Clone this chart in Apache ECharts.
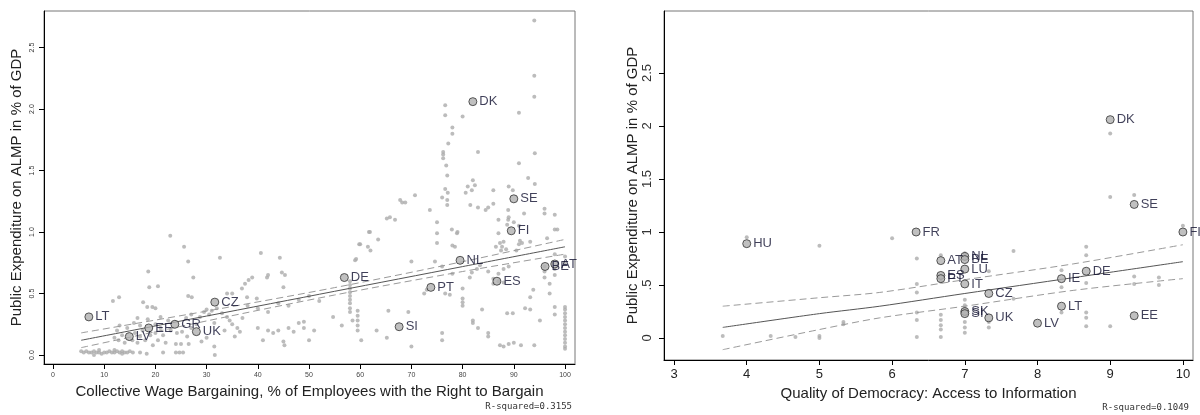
<!DOCTYPE html>
<html>
<head>
<meta charset="utf-8">
<title>ALMP spending scatter</title>
<script src="https://cdn.jsdelivr.net/npm/echarts@6/dist/echarts.min.js"></script>
<style>
  html, body { margin: 0; padding: 0; background: #fff; }
  #chart { width: 1200px; height: 415px; }
</style>
</head>
<body>
<div id="chart"></div>
<script>
// ---- left panel: collective bargaining coverage vs ALMP spending ----
var bargainCloud = [
  [5.5,0.03],[6,0.02],[6.5,0.03],[7,0.02],[7.5,0.02],[8,0.03],[8.5,0.02],[9,0.02],[9.5,0.01],[10,0.02],
  [10.5,0.02],[11,0.03],[11.5,0.02],[12,0.02],[12.5,0.03],[13,0.02],[13.5,0.03],[14,0.02],[14.5,0.02],[15,0.03],
  [15.6,0.02],[17,0.02],[18.3,0.01],[21.5,0.02],[24,0.02],[24.7,0.02],[25.4,0.02],[31.6,0.0],[9,0.04],[12,0.04],
  [13.5,0.01],[8,0.0],
  [12,0.14],[12.8,0.12],[13.5,0.16],[14,0.1],[15.5,0.12],[16,0.18],[16.5,0.1],[17,0.15],[17.5,0.2],[18,0.12],
  [19,0.16],[19.5,0.08],[20,0.18],[20.5,0.12],[21,0.22],[21.5,0.16],[22,0.1],[12.5,0.2],[13,0.24],[14.5,0.22],
  [15.8,0.26],[16.5,0.3],[18.5,0.29],[22.5,0.28],[23,0.2],[21,0.31],[20,0.25],[17,0.24],
  [24.2,0.18],[25.2,0.19],[26.2,0.15],[24,0.09],[25,0.09],[26.5,0.09],[29,0.11],[30,0.14],[31.5,0.07],[26,0.3],
  [27,0.33],[28.7,0.31],[29.5,0.35],[30,0.37],[30.5,0.33],[31,0.36],[32,0.38],[33,0.34],[34,0.31],[34.5,0.28],
  [35,0.25],[36,0.22],[36.5,0.19],[37,0.3],[35.5,0.15],[33.5,0.2],[31.5,0.26],[28,0.25],[27,0.22],
  [22.9,0.97],[25.6,0.88],[26.4,0.76],[27.4,0.63],[32.6,0.79],[40.6,0.83],[44.3,0.79],[18.6,0.68],[18.8,0.55],[20.5,0.56],
  [11.7,0.44],[12.9,0.47],[26.4,0.48],[27.1,0.47],[36.9,0.54],[37.5,0.58],[38.2,0.61],[38.9,0.63],[41.8,0.63],[42,0.65],
  [44.7,0.67],[45.3,0.65],[45,0.55],[34,0.5],[35,0.5],[37.9,0.47],[39.8,0.46],[17.6,0.43],[18.4,0.39],[19.4,0.39],[20,0.38],
  [40,0.22],[41,0.12],[42,0.2],[43,0.18],[44,0.2],[45,0.11],[45.2,0.08],[46,0.22],[47,0.19],[48,0.26],
  [49,0.22],[50,0.12],[49,0.27],[51,0.2],[38,0.4],[40,0.38],[42,0.35],[44,0.42],[46,0.4],[48,0.45],[50,0.48],[52,0.44],
  [54.7,0.31],[56.4,0.24],[58,0.42],[58,0.45],[58,0.48],[58,0.51],[58,0.54],[58,0.57],[58,0.6],[58,0.38],
  [58,0.35],[59.5,0.2],[59.5,0.24],[59.5,0.28],[59.5,0.32],[59.5,0.36],[58.5,0.28],[63.2,0.2],[60.2,0.12],[65.5,0.36],
  [65.2,0.14],[69.4,0.35],[70,0.07],[70,0.76],[59.8,0.9],[61.9,1.0],[63.5,0.94],[59,0.77],[61.7,1.0],[60,0.9],
  [61.5,0.88],[62,0.85],[59.2,0.78],[65.8,1.12],[66.8,1.1],[65.2,1.11],[67.8,1.26],[68.2,1.24],[68.8,1.24],[70.7,1.3],
  [75,1.08],[75,0.99],[75,0.91],[73.6,1.18],[77.9,1.02],[78.9,0.99],[74.6,0.76],[76.6,0.5],[77.5,0.49],[76,0.18],
  [76,0.12],[73,0.53],[72.5,0.5],[80,0.54],[80,0.46],[80,0.43],[80,0.4],[78.5,0.88],[78,0.89],[79,1.0],
  [76,1.28],[77,1.26],[77,1.22],[76,0.72],[78,0.66],
  [76.6,2.03],[76.6,1.95],[80,1.94],[78,1.85],[78,1.8],[77.2,1.72],[76.2,1.65],[76.2,1.63],[76.2,1.6],[76.8,1.54],
  [77,1.46],[76.6,1.35],[77.1,1.32],
  [82,0.28],[82,0.26],[83,0.22],[85,0.18],[85,0.15],[83.8,0.37],[81.4,0.63],[81.8,0.67],[82.8,0.7],[83.4,0.73],
  [85,0.68],[86,0.62],[87,0.66],[88,0.7],[89,0.72],[86,0.58],[87,0.6],[88,0.59],[87.3,0.08],[88,0.07],
  [89,0.09],[90,0.1],[91.4,0.08],[94,0.08],[87,0.99],[87.3,0.91],[87.7,0.88],[88.9,1.18],[88.9,1.1],[88.7,1.06],
  [91.2,0.93],[91.6,0.91],[93.2,0.92],[92.2,0.38],[93.2,0.37],[95.1,0.28],[93.8,0.53],[93.2,0.47],[88.7,0.34],[89.8,0.34],
  [94,2.72],[94,2.27],[94,2.1],[91,1.97],[83,1.65],[94.1,1.64],[91,1.56],[92.8,1.44],[94.1,1.39],[82,1.42],
  [82.4,1.38],[81.8,1.34],[81,1.37],[80.6,1.32],[86,1.34],[89,1.37],[89.8,1.34],[81.5,1.22],[83,1.2],[84.5,1.18],
  [85,1.2],[86,1.23],[87,1.1],[89,1.12],[90,1.08],[91,1.05],[92,1.15],[86.5,0.88],[87.5,0.85],[88,0.92],
  [88.5,0.86],[91,0.9],[90.5,0.85],
  [96,1.19],[96,1.15],[98,1.14],[98,1.02],[98.5,1.02],[96,0.72],[96,0.68],[96,0.63],[98,0.82],[98,0.7],
  [98,0.65],[98,0.39],[98,0.33],[96.5,0.95],[100,0.8],[100,0.75],[100,0.07],[100,0.1],[100,0.13],[100,0.16],
  [100,0.19],[100,0.22],[100,0.25],[100,0.28],[100,0.31],[100,0.34],[100,0.37],[100,0.39],[100,0.05],[97,0.58],[97,0.5]
];
var bargainCountries = ['DK','SE','FI','NL','BE','AT','DE','PT','ES','SI','CZ','LT','GR','EE','LV','UK'];
var bargainX = [82.0, 90.0, 89.5, 79.5, 96.1, 98.0, 56.9, 73.8, 86.7, 67.6, 31.6, 7.0, 23.8, 18.7, 14.9, 28.0];
var bargainY = [2.06, 1.27, 1.01, 0.77, 0.72, 0.74, 0.63, 0.55, 0.60, 0.23, 0.43, 0.31, 0.25, 0.22, 0.15, 0.19];
var bargainFitX = [5.5, 30, 55, 80, 100];
var bargainFit = [0.12, 0.317, 0.518, 0.719, 0.88];
var bargainUpper = [0.18, 0.357, 0.548, 0.759, 0.94];
var bargainLower = [0.06, 0.277, 0.488, 0.679, 0.82];
var bargainTicks = [0, 10, 20, 30, 40, 50, 60, 70, 80, 90, 100];
var bargainYTicks = [0, 0.5, 1.0, 1.5, 2.0, 2.5];

// ---- right panel: quality of democracy vs ALMP spending ----
var democracyCloud = [
  [4.0,0.95],[5.0,0.87],[6.0,0.94],[3.67,0.02],[4.33,0.02],[4.67,0.01],[5.0,0.02],[5.0,0.0],[5.33,0.15],[5.33,0.13],
  [6.34,0.75],[6.34,0.51],[6.34,0.43],[6.34,0.24],[6.34,0.17],[6.34,0.01],[6.67,0.78],[6.67,0.53],[6.67,0.22],[6.67,0.17],
  [6.67,0.12],[6.67,0.08],[6.67,0.01],[7,0.36],[7,0.31],[7,0.28],[7,0.15],[7,0.10],[7,0.05],[7,0.8],
  [7.33,0.63],[7.33,0.15],[7.33,0.10],[7.67,0.82],[7.67,0.37],[8.33,0.64],[8.33,0.48],[8.33,0.24],[8.67,0.86],[8.67,0.78],
  [8.67,0.52],[8.67,0.24],[8.67,0.19],[8.67,0.11],[9,1.33],[9,0.11],[9,1.93],[9.33,1.35],[9.33,0.58],[9.33,0.51],
  [9.67,0.57],[9.67,0.50],[10,1.06]
];
var democracyCountries = ['DK','SE','FI','FR','HU','AT','NL','BE','LU','IT','ES','PT','CZ','SK','SI','UK','LV','LT','IE','DE','EE'];
var democracyX = [9.0, 9.33, 10.0, 6.33, 4.0, 6.67, 7.0, 7.0, 7.0, 7.0, 6.67, 6.67, 7.33, 7.0, 7.0, 7.33, 8.0, 8.33, 8.33, 8.67, 9.33];
var democracyY = [2.06, 1.26, 1.00, 1.00, 0.89, 0.73, 0.77, 0.74, 0.65, 0.51, 0.59, 0.56, 0.42, 0.25, 0.23, 0.19, 0.14, 0.30, 0.56, 0.63, 0.21];
var democracyFitX = [3.67, 5, 5.83, 7, 8.5, 10];
var democracyFit = [0.10, 0.23, 0.30, 0.42, 0.57, 0.72];
var democracyUpper = [0.30, 0.38, 0.43, 0.55, 0.70, 0.88];
var democracyLower = [-0.11, 0.08, 0.19, 0.30, 0.45, 0.56];
var democracyTicks = [3, 4, 5, 6, 7, 8, 9, 10];
var democracyYTicks = [0, 0.5, 1, 1.5, 2, 2.5];

function zip(xs, ys) {
  var out = [];
  for (var i = 0; i < xs.length; i++) out.push([xs[i], ys[i]]);
  return out;
}
function named(xs, ys, names) {
  var out = [];
  for (var i = 0; i < xs.length; i++) out.push({ name: names[i], value: [xs[i], ys[i]] });
  return out;
}

var FONT = '"Liberation Sans", Arial, sans-serif';
var yTitle = 'Public Expenditure on ALMP in % of GDP';

function xAxisCfg(idx, min, max, ticks, name, labelSize, labelColor, gap) {
  return {
    type: 'value', gridIndex: idx, min: min, max: max,
    name: name, nameLocation: 'middle', nameGap: gap,
    nameTextStyle: { fontSize: 15, color: '#222', fontFamily: FONT },
    splitLine: { show: false },
    axisLine: { show: true, onZero: false, lineStyle: { color: '#000', width: 1 } },
    axisTick: { show: true, length: 5, lineStyle: { color: '#000' }, customValues: ticks },
    axisLabel: { customValues: ticks, fontSize: labelSize, color: labelColor, fontFamily: FONT, margin: 8 }
  };
}
function yAxisCfg(idx, min, max, ticks, gap, labelSize, fmt, margin) {
  return {
    type: 'value', gridIndex: idx, min: min, max: max,
    name: yTitle, nameLocation: 'middle', nameGap: gap,
    nameTextStyle: { fontSize: 15, color: '#222', fontFamily: FONT },
    splitLine: { show: false },
    axisLine: { show: true, onZero: false, lineStyle: { color: '#000', width: 1 } },
    axisTick: { show: true, length: 5, lineStyle: { color: '#000' }, customValues: ticks },
    axisLabel: { customValues: ticks, rotate: 90, fontSize: labelSize, color: '#333', fontFamily: FONT, margin: margin, formatter: fmt }
  };
}

function cloudSeries(idx, data) {
  return {
    type: 'scatter', xAxisIndex: idx, yAxisIndex: idx, data: data,
    symbolSize: 4, itemStyle: { color: '#ababab' }, silent: true, z: 2
  };
}
function lineSeries(idx, xs, ys, color, dashed) {
  return {
    type: 'line', xAxisIndex: idx, yAxisIndex: idx, data: zip(xs, ys),
    showSymbol: false, smooth: 0.3, silent: true, z: 3,
    lineStyle: { color: color, width: 1, type: dashed ? [7, 4] : 'solid' }
  };
}
function countrySeries(idx, data) {
  return {
    type: 'scatter', xAxisIndex: idx, yAxisIndex: idx, data: data,
    symbolSize: 8, z: 5,
    itemStyle: { color: '#b0b0b0', borderColor: '#333', borderWidth: 1 },
    label: { show: true, position: 'right', distance: 2, formatter: '{b}', fontSize: 13, color: '#101030', fontFamily: FONT }
  };
}

var chart = echarts.init(document.getElementById('chart'));
var option = {
  animation: false,
  backgroundColor: '#fff',
  grid: [
    { left: 44, top: 11, width: 531, height: 353, show: true, borderColor: '#777', borderWidth: 1, outerBoundsMode: 'none' },
    { left: 664, top: 11, width: 529, height: 349, show: true, borderColor: '#777', borderWidth: 1, outerBoundsMode: 'none' }
  ],
  xAxis: [
    xAxisCfg(0, -1.76, 101.95, bargainTicks, 'Collective Wage Bargaining, % of Employees with the Right to Bargain', 7, '#444', 17),
    xAxisCfg(1, 2.862, 10.139, democracyTicks, 'Quality of Democracy: Access to Information', 13, '#222', 22)
  ],
  yAxis: [
    yAxisCfg(0, -0.073, 2.797, bargainYTicks, 20, 7, function (v) { return v.toFixed(1); }, 8),
    yAxisCfg(1, -0.2075, 3.085, democracyYTicks, 24, 13, function (v) {
      var s = String(v);
      return s.indexOf('0.') === 0 ? s.slice(1) : s;
    }, 10)
  ],
  graphic: [
    { type: 'text', style: { text: 'R-squared=0.3155', x: 572, y: 407, align: 'right', verticalAlign: 'middle', font: '9px "DejaVu Sans Mono", monospace', fill: '#333' } },
    { type: 'text', style: { text: 'R-squared=0.1049', x: 1189, y: 408, align: 'right', verticalAlign: 'middle', font: '9px "DejaVu Sans Mono", monospace', fill: '#333' } }
  ],
  series: [
    cloudSeries(0, bargainCloud),
    lineSeries(0, bargainFitX, bargainUpper, '#9a9a9a', true),
    lineSeries(0, bargainFitX, bargainLower, '#9a9a9a', true),
    lineSeries(0, bargainFitX, bargainFit, '#555', false),
    countrySeries(0, named(bargainX, bargainY, bargainCountries)),

    cloudSeries(1, democracyCloud),
    lineSeries(1, democracyFitX, democracyUpper, '#9a9a9a', true),
    lineSeries(1, democracyFitX, democracyLower, '#9a9a9a', true),
    lineSeries(1, democracyFitX, democracyFit, '#555', false),
    countrySeries(1, named(democracyX, democracyY, democracyCountries))
  ]
};
chart.setOption(option);
</script>
</body>
</html>
